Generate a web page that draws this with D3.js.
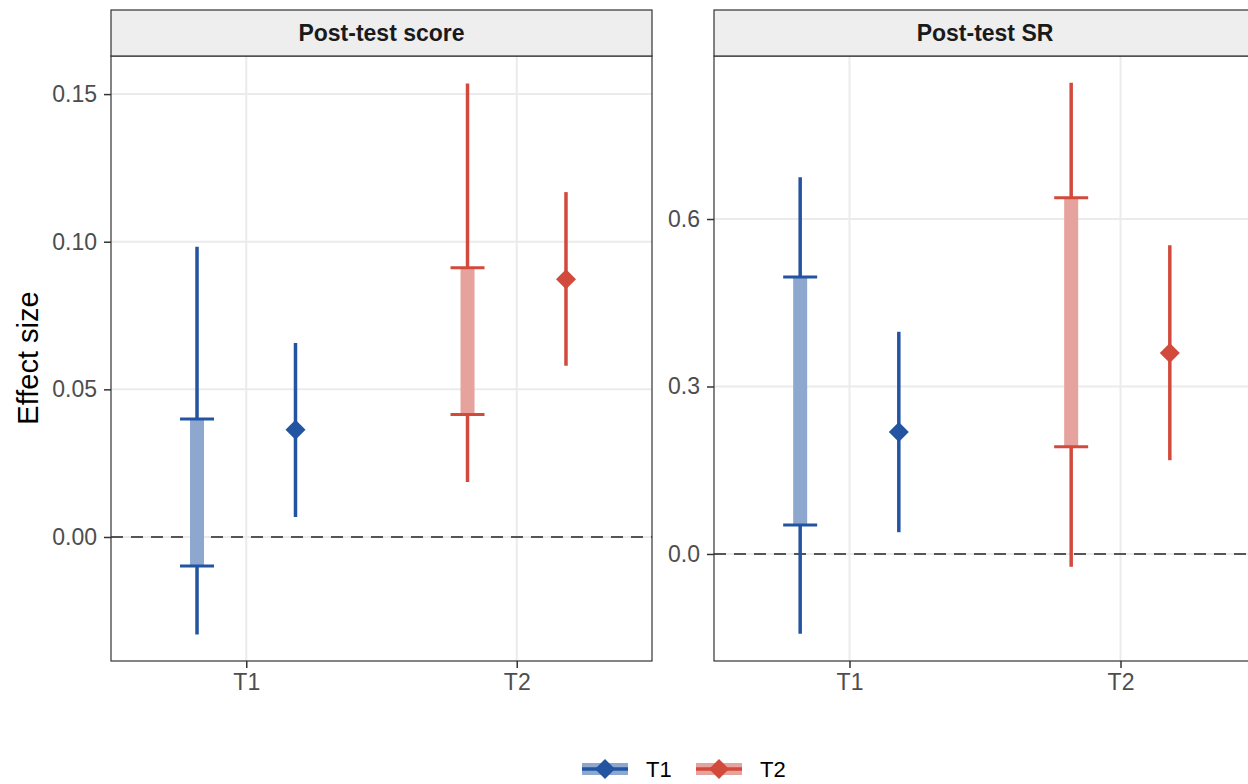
<!DOCTYPE html>
<html>
<head>
<meta charset="utf-8">
<script src="https://cdn.jsdelivr.net/npm/d3@7"></script>
<style>
  body { margin: 0; background: #fff; }
  svg { display: block; font-family: "Liberation Sans", Arial, sans-serif; }
</style>
</head>
<body>
<div id="chart"></div>
<script>
// facets and groups
var facets = ["Post-test score", "Post-test SR"];
var groups = ["T1", "T2"];

// Post-test score: interval (wide line + inner band) and estimate with CI
var scoreOuterLo = [-0.033, 0.0186];
var scoreOuterHi = [0.0983, 0.1536];
var scoreInnerLo = [-0.0098, 0.0415];
var scoreInnerHi = [0.0400, 0.0912];
var scoreEst = [0.0363, 0.0873];
var scoreEstLo = [0.0068, 0.0580];
var scoreEstHi = [0.0657, 0.1168];
var scoreTicks = [0, 0.05, 0.10, 0.15];

// Post-test SR
var srOuterLo = [-0.143, -0.023];
var srOuterHi = [0.675, 0.844];
var srInnerLo = [0.052, 0.192];
var srInnerHi = [0.496, 0.638];
var srEst = [0.2185, 0.360];
var srEstLo = [0.039, 0.168];
var srEstHi = [0.398, 0.553];
var srTicks = [0, 0.3, 0.6];

var colors = {T1: "#2254a2", T2: "#d24a3c"};
var lightColors = {T1: "#8ea7cf", T2: "#e6a29c"};

var W = 1248, H = 784;
var svg = d3.select("#chart").append("svg").attr("width", W).attr("height", H);

var panelTop = 56, panelBottom = 661, stripTop = 10;
var panels = [
  {name: facets[0], x0: 111, x1: 652, domain: [-0.042, 0.1629], ticks: scoreTicks, fmt: d3.format(".2f"),
   oLo: scoreOuterLo, oHi: scoreOuterHi, iLo: scoreInnerLo, iHi: scoreInnerHi, est: scoreEst, eLo: scoreEstLo, eHi: scoreEstHi},
  {name: facets[1], x0: 714, x1: 1256, domain: [-0.1917, 0.892], ticks: srTicks, fmt: d3.format(".1f"),
   oLo: srOuterLo, oHi: srOuterHi, iLo: srInnerLo, iHi: srInnerHi, est: srEst, eLo: srEstLo, eHi: srEstHi}
];

var dodge = 0.182;
var diamond = d3.symbol().type(d3.symbolSquare).size(200);

panels.forEach(function(p) {
  var x = d3.scalePoint().domain(groups).range([p.x0, p.x1]).padding(0.5);
  var y = d3.scaleLinear().domain(p.domain).range([panelBottom, panelTop]);
  var step = x.step();
  var g = svg.append("g");

  // grid
  g.selectAll(".gy").data(p.ticks).join("line")
    .attr("x1", p.x0).attr("x2", p.x1)
    .attr("y1", function(d) { return y(d); }).attr("y2", function(d) { return y(d); })
    .attr("stroke", "#ebebeb").attr("stroke-width", 2);
  g.selectAll(".gx").data(groups).join("line")
    .attr("x1", function(d) { return x(d); }).attr("x2", function(d) { return x(d); })
    .attr("y1", panelTop).attr("y2", panelBottom)
    .attr("stroke", "#ebebeb").attr("stroke-width", 2);

  // zero line
  g.append("line")
    .attr("x1", p.x0).attr("x2", p.x1).attr("y1", y(0)).attr("y2", y(0))
    .attr("stroke", "#555").attr("stroke-width", 2.2).attr("stroke-dasharray", "12,8");

  groups.forEach(function(k, i) {
    var xi = x(k) - dodge * step;
    var xe = x(k) + dodge * step;
    // outer line
    g.append("line").attr("x1", xi).attr("x2", xi)
      .attr("y1", y(p.oLo[i])).attr("y2", y(p.oHi[i]))
      .attr("stroke", colors[k]).attr("stroke-width", 3.5);
    // inner band
    g.append("rect").attr("x", xi - 7).attr("width", 14)
      .attr("y", y(p.iHi[i])).attr("height", y(p.iLo[i]) - y(p.iHi[i]))
      .attr("fill", lightColors[k]);
    // caps
    [p.iLo[i], p.iHi[i]].forEach(function(v) {
      g.append("line").attr("x1", xi - 17).attr("x2", xi + 17)
        .attr("y1", y(v)).attr("y2", y(v))
        .attr("stroke", colors[k]).attr("stroke-width", 3);
    });
    // estimate
    g.append("line").attr("x1", xe).attr("x2", xe)
      .attr("y1", y(p.eLo[i])).attr("y2", y(p.eHi[i]))
      .attr("stroke", colors[k]).attr("stroke-width", 3.5);
    g.append("path").attr("d", diamond)
      .attr("transform", "translate(" + xe + "," + y(p.est[i]) + ") rotate(45)")
      .attr("fill", colors[k]);
  });

  // panel border
  g.append("rect").attr("x", p.x0).attr("y", panelTop)
    .attr("width", p.x1 - p.x0).attr("height", panelBottom - panelTop)
    .attr("fill", "none").attr("stroke", "#333").attr("stroke-width", 1.2);

  // strip
  g.append("rect").attr("x", p.x0).attr("y", stripTop)
    .attr("width", p.x1 - p.x0).attr("height", panelTop - stripTop)
    .attr("fill", "#eeeeee").attr("stroke", "#333").attr("stroke-width", 1.2);
  g.append("text").attr("x", (p.x0 + p.x1) / 2).attr("y", (stripTop + panelTop) / 2 + 8)
    .attr("text-anchor", "middle").attr("font-size", 23).attr("font-weight", "bold")
    .attr("fill", "#1a1a1a").text(p.name);

  // y axis
  var ya = g.append("g").attr("transform", "translate(" + p.x0 + ",0)")
    .call(d3.axisLeft(y).tickValues(p.ticks).tickFormat(p.fmt).tickSize(7).tickPadding(7));
  ya.select(".domain").remove();
  ya.selectAll("line").attr("stroke", "#333").attr("stroke-width", 1.5);
  ya.selectAll("text").attr("font-size", 23).attr("fill", "#4d4d4d")
    .attr("font-family", "Liberation Sans, Arial, sans-serif");

  // x axis
  var xa = g.append("g").attr("transform", "translate(0," + panelBottom + ")")
    .call(d3.axisBottom(x).tickSize(7).tickPadding(6));
  xa.select(".domain").remove();
  xa.selectAll("line").attr("stroke", "#333").attr("stroke-width", 1.5);
  xa.selectAll("text").attr("font-size", 23).attr("fill", "#4d4d4d")
    .attr("font-family", "Liberation Sans, Arial, sans-serif");
});

// y axis title
svg.append("text").attr("transform", "translate(38,358) rotate(-90)")
  .attr("text-anchor", "middle").attr("font-size", 29).attr("fill", "#000")
  .text("Effect size");

// legend
var legendX = [582, 696];
groups.forEach(function(k, i) {
  var lx = legendX[i], ly = 769;
  var lg = svg.append("g");
  lg.append("rect").attr("x", lx).attr("y", ly - 6).attr("width", 46).attr("height", 12)
    .attr("fill", lightColors[k]);
  lg.append("line").attr("x1", lx).attr("x2", lx + 46).attr("y1", ly).attr("y2", ly)
    .attr("stroke", colors[k]).attr("stroke-width", 3.5);
  lg.append("path").attr("d", diamond)
    .attr("transform", "translate(" + (lx + 23) + "," + ly + ") rotate(45)")
    .attr("fill", colors[k]);
  lg.append("text").attr("x", lx + 64).attr("y", ly + 8)
    .attr("font-size", 22).attr("fill", "#000").text(k);
});
</script>
</body>
</html>
